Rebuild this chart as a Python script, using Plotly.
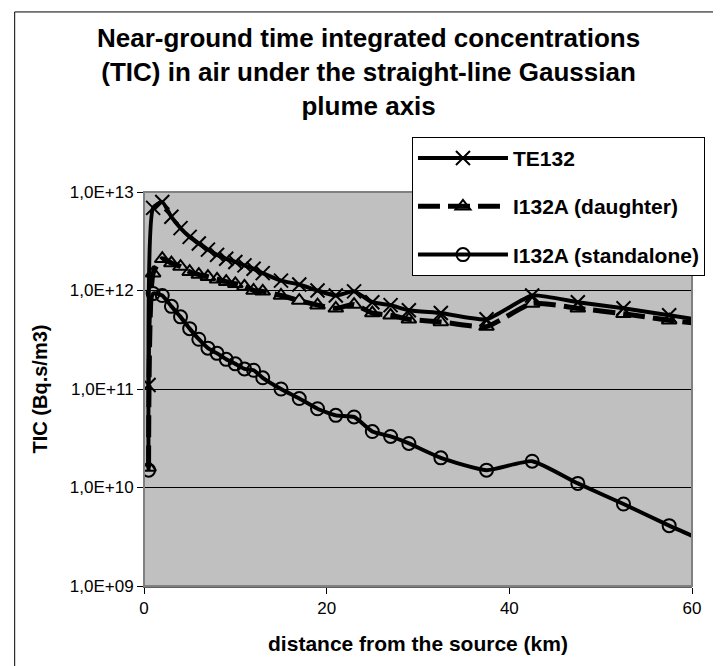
import plotly.graph_objects as go

# distances from the source (km), shared by the three series
distance_km = [0.5, 1, 2, 3, 4, 5, 6, 7, 8, 9, 10, 11, 12, 13, 15, 17, 19, 21, 23,
               25, 27, 29, 32.5, 37.5, 42.5, 47.5, 52.5, 57.5, 61]

te132 = [1.1e11, 6.9e12, 7.9e12, 5.6e12, 4.3e12, 3.5e12, 3.0e12, 2.6e12, 2.3e12,
         2.1e12, 1.95e12, 1.8e12, 1.66e12, 1.5e12, 1.26e12, 1.15e12, 1.0e12,
         8.9e11, 9.8e11, 7.6e11, 7.1e11, 6.3e11, 5.9e11, 5.1e11, 8.9e11, 7.6e11,
         6.6e11, 5.6e11, 5.0e11]

i132a_daughter = [1.6e10, 1.5e12, 2.1e12, 1.9e12, 1.75e12, 1.55e12, 1.45e12, 1.38e12,
                  1.3e12, 1.23e12, 1.17e12, 1.1e12, 1.0e12, 9.8e11, 8.9e11, 7.9e11,
                  7.1e11, 6.6e11, 7.2e11, 5.9e11, 5.6e11, 5.1e11, 4.8e11, 4.3e11,
                  7.4e11, 6.6e11, 5.8e11, 5.0e11, 4.6e11]

i132a_standalone = [1.5e10, 9.3e11, 8.9e11, 6.9e11, 5.4e11, 4.1e11, 3.2e11, 2.6e11,
                    2.3e11, 2.0e11, 1.8e11, 1.6e11, 1.55e11, 1.3e11, 1.0e11, 8.0e10,
                    6.3e10, 5.4e10, 5.2e10, 3.7e10, 3.3e10, 2.8e10, 2.0e10, 1.5e10,
                    1.85e10, 1.1e10, 6.8e9, 4.1e9, 2.95e9]

y_ticks = [1e9, 1e10, 1e11, 1e12, 1e13]
y_tick_labels = ["1,0E+09", "1,0E+10", "1,0E+11", "1,0E+12", "1,0E+13"]
x_ticks = [0, 20, 40, 60]

title_text = ("<b>Near-ground time integrated concentrations<br>"
              "(TIC) in air under the straight-line Gaussian<br>plume axis</b>")

FONT = "Liberation Sans, Arial, sans-serif"

fig = go.Figure()

fig.add_trace(go.Scatter(
    x=distance_km, y=te132, name="<b>TE132</b>", mode="lines+markers",
    line=dict(color="black", width=4, shape="spline", smoothing=0.5),
    marker=dict(symbol="x-thin-open", size=14, color="black",
                line=dict(color="black", width=2)),
    legendgroup="a"))

fig.add_trace(go.Scatter(
    x=distance_km, y=i132a_daughter, name="<b>I132A (daughter)</b>", mode="lines+markers",
    line=dict(color="black", width=5, dash="22px,8px", shape="spline", smoothing=0.5),
    marker=dict(symbol="triangle-up-open", size=13, color="black",
                line=dict(color="black", width=2)),
    legendgroup="b"))

fig.add_trace(go.Scatter(
    x=distance_km, y=i132a_standalone, name="<b>I132A (standalone)</b>", mode="lines+markers",
    line=dict(color="black", width=4, shape="spline", smoothing=0.5),
    marker=dict(symbol="circle-open", size=13, color="black",
                line=dict(color="black", width=2)),
    legendgroup="c"))

fig.update_layout(
    width=721, height=666,
    margin=dict(l=136, r=37, t=184, b=88),
    paper_bgcolor="white",
    plot_bgcolor="#C0C0C0",
    font=dict(family=FONT, size=16, color="black"),
    legend=dict(
        x=0.489, y=1.14, xanchor="left", yanchor="top",
        bgcolor="white", bordercolor="black", borderwidth=1,
        font=dict(family=FONT, size=21, color="black"),
        tracegroupgap=18, itemwidth=90),
    xaxis=dict(
        range=[0, 60], tickvals=x_ticks, ticks="outside", ticklen=6,
        tickcolor="black", showgrid=False, zeroline=False,
        showline=True, linecolor="#606060", linewidth=2,
        tickfont=dict(family=FONT, size=17),
        title=dict(text="<b>distance from the source (km)</b>", standoff=19,
                   font=dict(family=FONT, size=21))),
    yaxis=dict(
        type="log", range=[9, 13], tickvals=y_ticks, ticktext=y_tick_labels,
        ticks="outside", ticklen=6, tickcolor="black",
        showgrid=True, gridcolor="black", gridwidth=1, zeroline=False,
        showline=True, linecolor="black", linewidth=1,
        tickfont=dict(family=FONT, size=17),
        title=dict(text="<b>TIC (Bq.s/m3)</b>", standoff=16,
                   font=dict(family=FONT, size=20))),
    annotations=[
        dict(text=title_text, xref="paper", yref="paper", x=0.409, y=1.435,
             xanchor="center", yanchor="top", showarrow=False, align="center",
             font=dict(family=FONT, size=26, color="black")),
    ],
    shapes=[
        # plot area frame (grey, top and right visible)
        dict(type="rect", xref="paper", yref="paper", x0=0, x1=1, y0=0, y1=1,
             line=dict(color="#808080", width=2), layer="above"),
        # chart area border
        dict(type="rect", xref="paper", yref="paper",
             x0=-0.236, x1=1.056, y0=-0.211, y1=1.457,
             line=dict(color="black", width=1)),
    ],
)

fig.write_html("out.html")
